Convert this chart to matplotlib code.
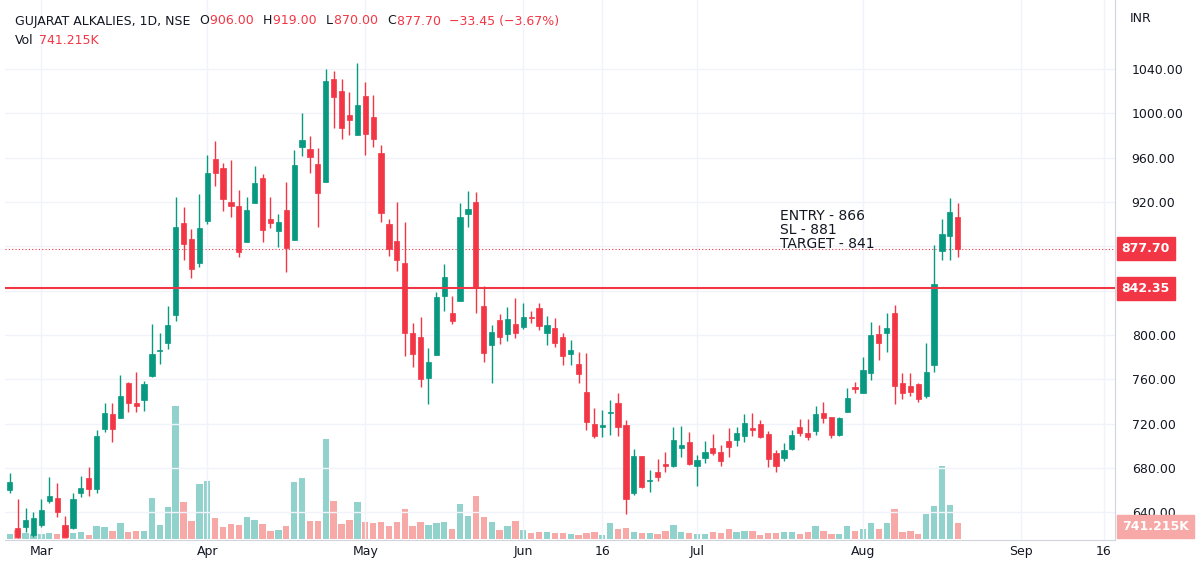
import matplotlib.pyplot as plt
from matplotlib.patches import Rectangle

# daily OHLC (INR)
opens = [660,625.4,627,619,628.5,650.4,652.5,628.5,625.4,657.6,670.5,661,714.8,728.3,725.3,757,738.8,741.2,763.2,785.8,
         792.4,818,900.7,886.5,865,903.1,958.8,950.3,919.6,916.3,884.1,919.3,941.3,904.3,894.1,912.7,885.6,969.3,967.5,954,
         938.3,1030.7,1020.1,998.5,980.1,1015.6,997,963.9,900.1,884.7,865.2,801.4,798.4,760.8,781.9,835.1,819.5,830.9,909,920.2,
         826.1,790.9,813.4,800.8,809.5,806.8,816.5,824,802,806,798.4,782.5,773.7,748.8,719.6,716.6,729.2,738.8,718.7,657,
         690.7,668,676.3,683.2,681.7,697.6,703.6,681.7,689.2,697.6,694.6,704.5,705.1,708.8,715.7,719.3,710.6,693.1,689.2,696.7,
         717.2,711.7,713.6,729.8,725.6,709.7,730.1,752.6,747.3,765.3,800.8,801.4,819.5,756.3,753.9,755.7,744.9,772.8,876,889.3,906]
highs = [675,651.6,643.5,640,651.6,672,666,636.5,657,672.6,681,714,738.8,738.2,763.8,757.8,766.8,758.7,809.5,802,
         826,924.8,915.7,895.3,926.8,962.4,975,955.4,957.8,930.8,924.8,952.4,944.9,924.8,909,938.3,966.9,1000,979.5,968.4,
         1039.7,1038.2,1030.7,1019.5,1045.7,1028.5,1016.5,971.4,904.3,920.2,902.2,811,816.5,787.9,839,864,835.1,919.3,929.9,928.7,
         844,808.9,818.9,825.5,833,828.5,821.8,829,817,815,801.4,795.4,784.3,783.4,733.7,732.2,741.2,747.3,723.2,696.7,
         690.7,678,687.7,694.6,716.6,717.8,712.6,691.6,704.5,710.6,700.6,715.7,717.2,728.3,729.2,723.2,713.6,696.1,702.1,714.2,
         723.8,723.8,735.8,739.7,726.2,726.2,751.8,757.8,780.4,812,808.9,819.5,827,765.9,765.9,756.9,793,881.1,904.3,923.3,919]
lows = [657,617,622,618,627,648.6,636,618,624.5,654,654.6,657,712.6,703.6,725.3,730,730,731.3,762.3,773.7,
        787,812.8,867.6,851,861.6,900.1,934.4,912.1,906.7,870,884.1,919.3,884.1,896.2,879.6,857,885.6,961.5,945.8,897.7,
        938.3,986.4,976.5,980.4,980.1,962.4,969.9,902.2,871.5,857.7,781,770.7,753.3,737.7,781.9,821.8,809.8,830.9,897.1,819.5,
        775.8,756.9,791.5,794.8,796.9,805,811,804.4,790.9,789.4,772.8,772.8,756.3,714.2,706.6,708.2,709.7,708.8,638.4,655.5,
        661.5,658.5,668.4,676.6,681.1,690.1,682.6,663.6,684.7,691.6,681.7,690.1,700,703.6,708.8,706.6,681.1,676.6,686.2,696.1,
        709.1,705.2,709.7,720.2,706.6,708.8,730.1,747.3,747.3,759.3,777.3,784.9,737.6,741.8,744.9,739.7,742.7,766.8,867.6,867.6,870]
closes = [667.5,618,633,634.5,642,654.6,640,618,651.6,661.5,660.6,709,729.2,714.8,745,738.2,736,755.3,782.8,786.7,
          809,897,881.7,859.2,896.2,946.4,945.8,922.3,916.6,875.1,912.7,936.8,894.7,900.7,902.2,878.1,953.3,975.9,960.3,927.8,
          1029.1,1014.4,987,993.9,1007.5,981,976.5,910.3,877.5,867.6,802,782.5,759.9,775.8,833.9,851.9,812.8,906,913.6,842,
          783.4,802.9,797.8,814,802,816.5,815,808,808.9,792.4,781,786,764.4,721.7,708.8,718.7,730.4,716.6,651.6,690.7,
          662.4,668.5,671.4,682,705.2,700.6,683.5,687.1,694.6,693.1,686.2,699.1,711.1,720.2,714.2,708.2,687.7,682,696.1,709.7,
          711.1,708.2,728.6,724.7,709.7,725.3,743.3,751.5,768.3,799.9,792.4,805.9,753.9,747.9,748.8,742.1,766.8,845.9,890.8,911.2,877.7]
volume_k = [232,417,278,232,232,278,232,185,278,324,185,602,556,370,741,324,370,370,1898,648,
            1482,6158,1713,833,2547,2685,972,556,695,648,1019,880,695,370,417,602,2639,2824,833,833,
            4630,1759,695,880,1713,787,741,787,602,787,1389,602,787,648,741,787,463,1620,1065,1991,
            1019,787,417,602,833,417,278,324,324,278,278,232,185,278,324,185,741,463,509,324,
            278,278,232,370,648,324,278,232,232,324,278,463,324,370,370,185,278,278,324,324,
            232,324,602,370,232,232,602,370,463,741,463,741,1389,324,370,232,1158,1528,3380,1574,741]

support = 842.35
last_close = 877.70
price_ticks = [640, 680, 720, 760, 800, 840, 880, 920, 960, 1000, 1040]
month_pos = [4, 25, 45, 65, 75, 87, 108, 128, 138.5]
month_labels = ['Mar', 'Apr', 'May', 'Jun', '16', 'Jul', 'Aug', 'Sep', '16']
note = 'ENTRY - 866\nSL - 881\nTARGET - 841'

GREEN = '#089981'
RED = '#F23645'
INK = '#131722'

fig = plt.figure(figsize=(12, 5.67), dpi=100)
ax = fig.add_axes([5/1200, 27/567, 1110/1200, 540/567])
axv = ax.twinx()
ax.set_zorder(2)
ax.patch.set_visible(False)

# volume first, behind candles
for i, v in enumerate(volume_k):
    up = closes[i] >= opens[i]
    axv.bar(i, v, width=0.8, color='#92D2CC' if up else '#F7A9A7', zorder=1)
axv.set_ylim(-60, 25000)
axv.axis('off')

for i in range(len(opens)):
    o, h, l, c = opens[i], highs[i], lows[i], closes[i]
    col = GREEN if c >= o else RED
    ax.vlines(i, l, h, color=col, lw=1, zorder=3)
    ax.add_patch(Rectangle((i - 0.33, min(o, c)), 0.66, max(abs(c - o), 0.8),
                           facecolor=col, edgecolor=col, lw=0.5, zorder=4))

ax.axhline(support, color=RED, lw=1.5, zorder=5)
ax.axhline(last_close, color=RED, lw=0.8, ls=(0, (1, 2)), zorder=2)
ax.text(97.5, 914, note, fontsize=10, va='top', ha='left', color=INK, linespacing=1.0, zorder=6)

ax.set_xlim(-0.6, 139.9)
ax.set_ylim(614.9, 1102.3)
ax.set_xticks(month_pos)
ax.set_xticklabels(month_labels)
ax.set_yticks(price_ticks)
ax.yaxis.tick_right()
# 840 / 880 labels sit under the price tags
ax.set_yticklabels(['' if p in (840, 880) else f'{p:.2f}' for p in price_ticks])
ax.tick_params(axis='both', length=0, labelsize=9, colors=INK)
ax.tick_params(axis='y', pad=12)
ax.grid(True, color='#f0f3fa', lw=1)
ax.set_axisbelow(True)
for s in ['top', 'left']:
    ax.spines[s].set_visible(False)
for s in ['right', 'bottom']:
    ax.spines[s].set_color('#d1d4dc')

# price tags on the right scale
for val, txt in [(last_close, '877.70'), (support, '842.35')]:
    ax.text(1.006, (val - 614.9) / (1102.3 - 614.9), txt, transform=ax.transAxes, fontsize=9, color='white',
            va='center', ha='left', fontweight='bold',
            bbox=dict(boxstyle='square,pad=0.4', fc=RED, ec=RED), zorder=10, clip_on=False)
ax.text(1.006, 0.025, '741.215K', transform=ax.transAxes, fontsize=9, color='white', va='center', ha='left',
        fontweight='bold', bbox=dict(boxstyle='square,pad=0.4', fc='#F7A9A7', ec='#F7A9A7'), clip_on=False, zorder=10)

fig.text(1130/1200, 1 - 19/567, 'INR', fontsize=9, color=INK, va='center')

# header: pieces laid out one after another
renderer = fig.canvas.get_renderer()
hdr = [('GUJARAT ALKALIES, 1D, NSE  ', INK), ('O', INK), ('906.00  ', RED), ('H', INK),
       ('919.00  ', RED), ('L', INK), ('870.00  ', RED), ('C', INK),
       ('877.70  \u221233.45 (\u22123.67%)', RED)]
x = 15
for t, c in hdr:
    txt = fig.text(x/1200, 1 - 21/567, t, fontsize=9, color=c, va='center')
    x += txt.get_window_extent(renderer).width + 1
fig.text(15/1200, 1 - 40/567, 'Vol', fontsize=9, color=INK, va='center')
fig.text(39/1200, 1 - 40/567, '741.215K', fontsize=9, color=RED, va='center')

fig.savefig('out.png', dpi=100, facecolor='white')
